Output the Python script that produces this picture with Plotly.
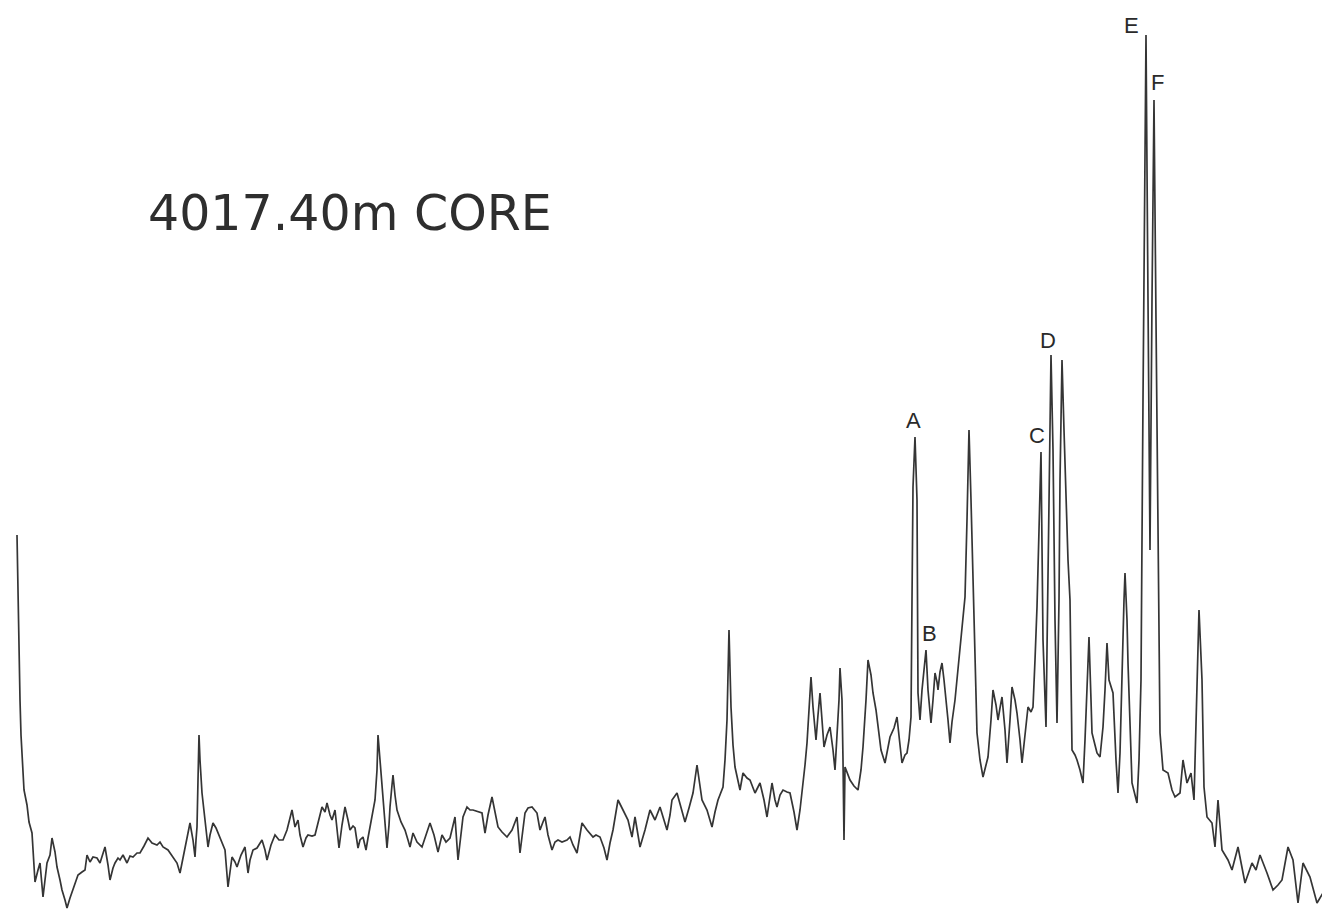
import plotly.graph_objects as go

# Chromatogram trace: retention position and detector response
retention = [17,18,19,20,21,24,27,29,32,35,38,40,43,47,50,52,55,57,60,62,65,67,70,72,75,78,82,85,87,90,93,97,100,103,105,108,110,113,115,118,120,123,127,130,133,137,140,144,148,152,157,160,163,168,173,177,180,183,185,188,190,193,195,196,197,198,199,200,202,205,208,210,213,216,220,225,228,230,232,235,237,241,245,248,250,253,257,262,265,267,271,275,279,283,287,292,295,298,300,303,306,308,312,315,318,322,325,327,330,332,335,337,339,342,345,348,350,353,355,358,360,363,366,368,370,373,375,377,378,380,382,385,387,389,390,392,393,395,397,401,405,408,410,413,417,422,426,430,434,438,442,446,450,455,458,461,463,467,470,473,478,482,485,488,492,495,498,502,507,512,517,520,523,525,528,532,537,540,543,545,548,552,555,558,562,567,570,573,577,580,582,587,593,596,600,604,607,610,613,616,618,623,628,632,635,640,645,650,655,660,663,667,670,672,677,681,685,689,693,697,700,702,707,710,712,715,718,723,725,727,729,731,733,735,740,743,747,750,755,760,764,767,770,772,775,777,780,783,787,790,794,797,800,802,805,807,809,811,813,816,818,820,822,824,827,830,833,835,837,839,840,842,843,844,845,848,850,854,858,861,863,866,868,871,873,876,878,881,885,888,890,894,897,900,902,905,907,909,911,912,913,915,916,917,918,920,922,924,926,928,931,933,935,937,938,940,942,944,946,948,950,952,955,957,960,962,965,967,969,971,973,975,977,980,983,986,988,991,993,996,998,1000,1002,1005,1007,1010,1012,1015,1017,1020,1022,1025,1028,1031,1033,1035,1037,1039,1041,1043,1045,1046,1047,1048,1050,1051,1053,1055,1057,1059,1060,1062,1064,1066,1068,1070,1072,1075,1077,1080,1083,1085,1087,1089,1091,1092,1095,1097,1100,1103,1105,1107,1109,1113,1116,1118,1120,1122,1124,1125,1127,1128,1130,1132,1135,1137,1139,1141,1143,1144,1146,1148,1150,1152,1154,1156,1158,1160,1163,1168,1172,1175,1180,1183,1187,1191,1194,1197,1199,1202,1204,1207,1212,1215,1218,1222,1228,1232,1238,1245,1252,1256,1260,1267,1273,1278,1282,1288,1293,1298,1303,1310,1317,1323,1330]

depth = [535,600,650,700,735,790,805,822,833,882,870,863,897,863,855,838,852,867,880,890,900,908,898,892,882,875,872,870,855,862,857,858,863,852,847,865,880,868,863,858,860,855,863,856,857,853,853,846,838,843,845,842,847,850,857,863,873,858,847,835,823,840,857,840,827,780,735,760,793,820,847,835,823,828,837,850,887,870,857,862,867,855,847,873,860,850,848,840,850,860,845,835,840,840,830,810,827,820,835,847,838,835,836,835,822,807,812,803,815,820,810,830,848,825,807,820,830,826,828,848,840,837,850,838,827,810,800,770,735,760,787,820,848,825,807,785,775,795,810,822,830,840,847,833,842,847,835,823,835,852,835,842,838,817,860,830,817,807,810,810,812,813,833,815,797,812,827,832,837,830,817,853,825,813,808,807,813,830,822,817,835,850,842,840,842,840,837,845,853,835,823,830,837,835,837,848,860,843,830,812,800,810,820,837,817,847,830,810,820,807,818,830,815,800,793,808,822,808,793,765,785,800,810,820,827,812,800,787,760,720,630,707,745,767,790,773,778,780,793,783,800,817,795,783,800,807,795,790,792,793,812,830,810,793,765,743,710,677,707,740,715,693,720,747,735,727,750,770,735,700,668,700,760,840,767,775,780,786,790,770,747,700,660,675,693,710,727,750,763,745,737,728,717,745,763,755,753,740,717,600,487,437,470,500,693,720,690,672,650,690,723,700,673,682,690,672,663,680,697,720,743,722,700,680,647,625,597,520,430,500,587,670,733,760,777,765,757,720,690,705,720,708,697,730,763,720,687,700,713,740,763,735,707,712,707,660,607,530,452,640,700,727,650,567,430,355,450,620,723,600,480,360,430,500,560,600,750,755,760,770,783,740,693,637,700,733,745,753,757,727,690,643,680,693,760,793,753,663,600,573,620,663,730,783,795,803,760,680,400,250,35,300,550,300,100,320,550,733,770,773,790,797,793,760,783,773,800,683,610,680,787,817,823,847,800,850,860,870,847,883,863,870,855,873,890,885,880,847,860,903,863,877,903,893,890]

response = [909 - d for d in depth]

title_text = "4017.40m CORE"
peak_labels = ["A", "B", "C", "D", "E", "F"]
label_x = [913, 929, 1037, 1048, 1131, 1157]
label_y = [489, 276, 474, 569, 884, 827]

fig = go.Figure()
fig.add_trace(go.Scatter(x=retention, y=response, mode="lines",
                         line=dict(color="#353535", width=1.7), hoverinfo="skip"))

for t, lx, ly in zip(peak_labels, label_x, label_y):
    fig.add_annotation(x=lx, y=ly, text=t, showarrow=False,
                       font=dict(family="Liberation Sans, Arial", size=22, color="#2a2a2a"))

fig.add_annotation(x=350, y=696, text=title_text, showarrow=False,
                   font=dict(family="DejaVu Sans", size=49, color="#2e2e2e"))

# page body adds an 8px offset, so the figure is 8px smaller and ranges start accordingly
fig.update_layout(width=1322, height=901, autosize=False,
                  margin=dict(l=0, r=0, t=0, b=0),
                  paper_bgcolor="white", plot_bgcolor="white",
                  showlegend=False,
                  xaxis=dict(range=[8, 1330], visible=False, fixedrange=True),
                  yaxis=dict(range=[0, 901], visible=False, fixedrange=True))

fig.write_html("out.html")
